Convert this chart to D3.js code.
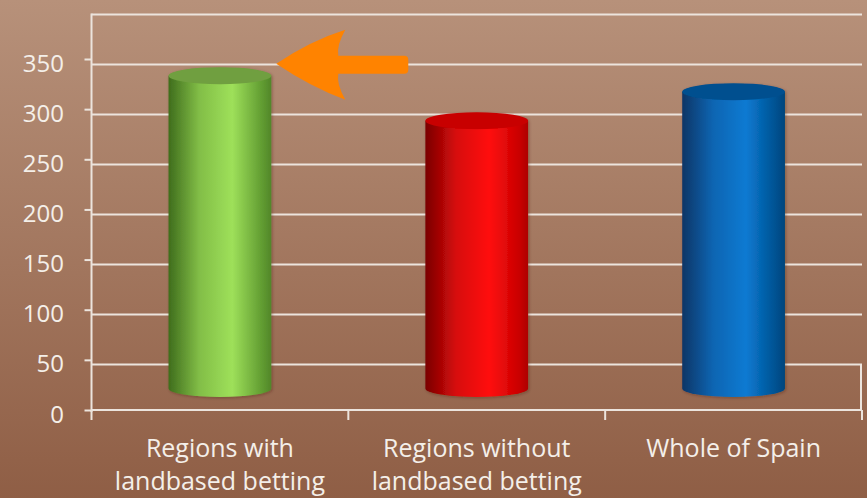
<!DOCTYPE html>
<html>
<head>
<meta charset="utf-8">
<script src="https://cdn.jsdelivr.net/npm/d3@7"></script>
<style>
  html, body { margin: 0; padding: 0; }
  body { width: 867px; height: 498px; overflow: hidden; }
  text { font-family: "Open Sans", Lato, sans-serif; fill: #f4efe9; }
</style>
</head>
<body>
<div id="chart"></div>
<script>
// data
var categories = ["Regions with\nlandbased betting", "Regions without\nlandbased betting", "Whole of Spain"];
var values = [338, 293, 322];
var tickValues = [0, 50, 100, 150, 200, 250, 300, 350];
var barColors = [
  {dark: "#3f6d1c", mid: "#9ee05a", edge: "#5f9a30", top: "#6f9f3f"},
  {dark: "#7a0000", mid: "#ff1010", edge: "#c80000", top: "#c80000"},
  {dark: "#0a3566", mid: "#0b7ad2", edge: "#00508f", top: "#00508f"}
];

(function(){
var width = 867, height = 498;
var plotLeft = 91.5, plotRight = 862, plotTop = 13.5, axisY = 410;

var svg = d3.select("#chart").append("svg")
    .attr("width", width)
    .attr("height", height);

var defs = svg.append("defs");
var bg = defs.append("linearGradient").attr("id", "bg")
    .attr("x1", 0).attr("y1", 0).attr("x2", 0).attr("y2", 1);
bg.append("stop").attr("offset", "0%").attr("stop-color", "#b7917a");
bg.append("stop").attr("offset", "100%").attr("stop-color", "#8f5e45");

svg.append("rect").attr("width", width).attr("height", height).attr("fill", "url(#bg)");

// scales: back-wall value scale (gridlines) and front axis scale (ticks)
var yWall = d3.scaleLinear().domain([0, 400]).range([414.5, plotTop]);
var yAxis = d3.scaleLinear().domain([0, 350]).range([axisY + 0.5, 59.5]);
var x = d3.scaleBand().domain(categories).range([plotLeft, plotRight]);
var barW = x.bandwidth() * 0.4;
var ry = 8.5;
var floorLift = 26;

// gridlines on the back wall
var grid = svg.append("g");
grid.selectAll("line")
  .data(tickValues.filter(function(d){ return d > 0; }).concat([400]))
  .enter().append("line")
  .attr("x1", plotLeft).attr("x2", plotRight)
  .attr("y1", function(d){ return Math.round(yWall(d)) + 0.5; })
  .attr("y2", function(d){ return Math.round(yWall(d)) + 0.5; })
  .attr("stroke", "#ece4dd").attr("stroke-width", 2);

// right wall edge
grid.append("line")
  .attr("x1", plotRight - 1).attr("x2", plotRight - 1)
  .attr("y1", Math.round(yWall(50)) + 0.5).attr("y2", axisY)
  .attr("stroke", "#ece4dd").attr("stroke-width", 2);

// left axis
var ax = svg.append("g");
ax.append("line")
  .attr("x1", plotLeft).attr("x2", plotLeft)
  .attr("y1", plotTop).attr("y2", axisY + 2)
  .attr("stroke", "#ece4dd").attr("stroke-width", 2);
ax.selectAll(".ytick")
  .data(tickValues)
  .enter().append("line")
  .attr("class", "ytick")
  .attr("x1", plotLeft - 7).attr("x2", plotLeft)
  .attr("y1", function(d){ return yAxis(d); })
  .attr("y2", function(d){ return yAxis(d); })
  .attr("stroke", "#ece4dd").attr("stroke-width", 2);
ax.selectAll(".ylab")
  .data(tickValues)
  .enter().append("text")
  .attr("class", "ylab")
  .attr("x", 64)
  .attr("y", function(d){ return yAxis(d) + 12; })
  .attr("text-anchor", "end")
  .attr("font-size", 24)
  .text(function(d){ return d; });

// bottom axis
ax.append("line")
  .attr("x1", plotLeft).attr("x2", plotRight)
  .attr("y1", axisY).attr("y2", axisY)
  .attr("stroke", "#ece4dd").attr("stroke-width", 2);
var bounds = categories.map(function(c){ return x(c); }).concat([plotRight]);
ax.selectAll(".xtick")
  .data(bounds)
  .enter().append("line")
  .attr("class", "xtick")
  .attr("x1", function(d){ return d; }).attr("x2", function(d){ return d; })
  .attr("y1", axisY).attr("y2", axisY + 10)
  .attr("stroke", "#ece4dd").attr("stroke-width", 2);

ax.selectAll(".xlab")
  .data(categories)
  .enter().append("text")
  .attr("class", "xlab")
  .attr("text-anchor", "middle")
  .attr("font-size", 25)
  .each(function(d){
    var lines = d.split("\n");
    var t = d3.select(this);
    lines.forEach(function(l, i){
      t.append("tspan")
        .attr("x", x(d) + x.bandwidth() / 2)
        .attr("y", 457 + i * 33)
        .text(l);
    });
  });

// cylinders
var sh = defs.append("filter").attr("id", "shadow")
  .attr("x", "-20%").attr("y", "-20%").attr("width", "140%").attr("height", "140%");
sh.append("feDropShadow").attr("dx", 1).attr("dy", 1).attr("stdDeviation", 1.5)
  .attr("flood-color", "#3a2010").attr("flood-opacity", 0.35);

barColors.forEach(function(c, i){
  var g = defs.append("linearGradient").attr("id", "cyl" + i)
    .attr("x1", 0).attr("y1", 0).attr("x2", 1).attr("y2", 0);
  g.append("stop").attr("offset", "0%").attr("stop-color", c.dark);
  g.append("stop").attr("offset", "30%").attr("stop-color", d3.interpolateRgb(c.dark, c.mid)(0.7));
  g.append("stop").attr("offset", "62%").attr("stop-color", c.mid);
  g.append("stop").attr("offset", "92%").attr("stop-color", c.edge);
  g.append("stop").attr("offset", "100%").attr("stop-color", d3.color(c.edge).darker(0.4));
});

var bars = svg.selectAll(".cyl")
  .data(values)
  .enter().append("g")
  .attr("class", "cyl")
  .attr("filter", "url(#shadow)");

bars.append("path")
  .attr("fill", function(d, i){ return "url(#cyl" + i + ")"; })
  .attr("d", function(d, i){
    var cx = x(categories[i]) + x.bandwidth() / 2;
    var x0 = cx - barW / 2, x1 = cx + barW / 2;
    var yt = yWall(d), yb = yWall(0) - floorLift;
    return "M" + x0 + "," + yt + "L" + x0 + "," + yb +
      "A" + (barW / 2) + "," + ry + " 0 0 0 " + x1 + "," + yb +
      "L" + x1 + "," + yt + "Z";
  });

bars.append("ellipse")
  .attr("cx", function(d, i){ return x(categories[i]) + x.bandwidth() / 2; })
  .attr("cy", function(d){ return yWall(d); })
  .attr("rx", barW / 2)
  .attr("ry", ry)
  .attr("fill", function(d, i){ return barColors[i].top; });

// annotation arrow pointing at the first bar
var tipX = x(categories[0]) + x.bandwidth() / 2 + barW / 2 + 5;
var tipY = yWall(350);
var arrow = "M" + tipX + "," + tipY +
  " Q" + (tipX + 34) + "," + (tipY - 23) + " " + (tipX + 69) + "," + (tipY - 34) +
  " Q" + (tipX + 60) + "," + (tipY - 18) + " " + (tipX + 62) + "," + (tipY - 8) +
  " L" + (tipX + 128) + "," + (tipY - 8) +
  " Q" + (tipX + 132) + "," + (tipY - 8) + " " + (tipX + 132) + "," + (tipY - 4) +
  " L" + (tipX + 132) + "," + (tipY + 6) +
  " Q" + (tipX + 132) + "," + (tipY + 10) + " " + (tipX + 128) + "," + (tipY + 10) +
  " L" + (tipX + 62) + "," + (tipY + 10) +
  " Q" + (tipX + 60) + "," + (tipY + 20) + " " + (tipX + 69) + "," + (tipY + 36) +
  " Q" + (tipX + 34) + "," + (tipY + 23) + " " + tipX + "," + tipY + "Z";
svg.append("path").attr("d", arrow).attr("fill", "#ff8300");
})();
</script>
</body>
</html>
